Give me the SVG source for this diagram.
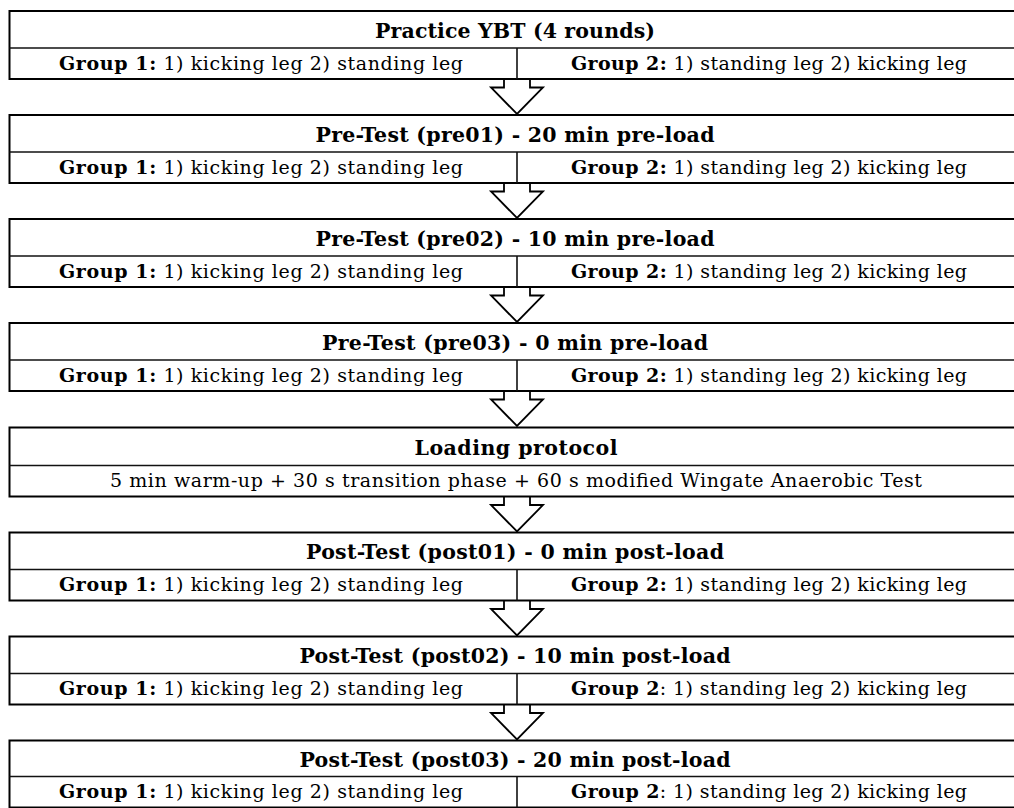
<svg xmlns="http://www.w3.org/2000/svg" width="1014" height="808" viewBox="0 0 1014 808">
<style>
.box{fill:#fff;stroke:#000;stroke-width:2}
.sep{stroke:#111;stroke-width:1.6;fill:none}
.hd{font-family:"DejaVu Serif","Liberation Serif",serif;font-weight:bold;font-size:20.5px;fill:#000;text-anchor:middle}
.sub{font-family:"DejaVu Serif","Liberation Serif",serif;font-size:19px;fill:#000;text-anchor:middle}
.b{font-weight:bold}
.arrow{fill:#fff;stroke:#000;stroke-width:1.8;stroke-linejoin:miter}
</style>
<rect width="1014" height="808" fill="#fff"/>

<g id="connectors">
<path class="arrow" d="M504,79 V87.5 H491 L517,114 L543,87.5 H530 V79"/>
<path class="arrow" d="M504,183 V191.5 H491 L517,218 L543,191.5 H530 V183"/>
<path class="arrow" d="M504,287 V295.5 H491 L517,322 L543,295.5 H530 V287"/>
<path class="arrow" d="M504,391 V399.5 H491 L517,426 L543,399.5 H530 V391"/>
<path class="arrow" d="M504,496.5 V505 H491 L517,531.5 L543,505 H530 V496.5"/>
<path class="arrow" d="M504,600.5 V609 H491 L517,635.5 L543,609 H530 V600.5"/>
<path class="arrow" d="M504,704.5 V713 H491 L517,739.5 L543,713 H530 V704.5"/>
</g>

<g id="practice">
<rect class="box" x="9.5" y="11" width="1012" height="68"/>
<line class="sep" x1="9.5" y1="48" x2="1021.5" y2="48"/>
<line class="sep" x1="517" y1="48" x2="517" y2="79"/>
<text class="hd" x="515" y="38" textLength="280">Practice YBT (4 rounds)</text>
<text class="sub" x="261" y="70" textLength="404"><tspan class="b">Group 1:</tspan> 1) kicking leg 2) standing leg</text>
<text class="sub" x="769" y="70" textLength="396"><tspan class="b">Group 2:</tspan> 1) standing leg 2) kicking leg</text>
</g>

<g id="pre01">
<rect class="box" x="9.5" y="115" width="1012" height="68"/>
<line class="sep" x1="9.5" y1="152" x2="1021.5" y2="152"/>
<line class="sep" x1="517" y1="152" x2="517" y2="183"/>
<text class="hd" x="515" y="142" textLength="399">Pre-Test (pre01) - 20 min pre-load</text>
<text class="sub" x="261" y="174" textLength="404"><tspan class="b">Group 1:</tspan> 1) kicking leg 2) standing leg</text>
<text class="sub" x="769" y="174" textLength="396"><tspan class="b">Group 2:</tspan> 1) standing leg 2) kicking leg</text>
</g>

<g id="pre02">
<rect class="box" x="9.5" y="219" width="1012" height="68"/>
<line class="sep" x1="9.5" y1="256" x2="1021.5" y2="256"/>
<line class="sep" x1="517" y1="256" x2="517" y2="287"/>
<text class="hd" x="515" y="246" textLength="399">Pre-Test (pre02) - 10 min pre-load</text>
<text class="sub" x="261" y="278" textLength="404"><tspan class="b">Group 1:</tspan> 1) kicking leg 2) standing leg</text>
<text class="sub" x="769" y="278" textLength="396"><tspan class="b">Group 2:</tspan> 1) standing leg 2) kicking leg</text>
</g>

<g id="pre03">
<rect class="box" x="9.5" y="323" width="1012" height="68"/>
<line class="sep" x1="9.5" y1="360" x2="1021.5" y2="360"/>
<line class="sep" x1="517" y1="360" x2="517" y2="391"/>
<text class="hd" x="515" y="350" textLength="386">Pre-Test (pre03) - 0 min pre-load</text>
<text class="sub" x="261" y="382" textLength="404"><tspan class="b">Group 1:</tspan> 1) kicking leg 2) standing leg</text>
<text class="sub" x="769" y="382" textLength="396"><tspan class="b">Group 2:</tspan> 1) standing leg 2) kicking leg</text>
</g>

<g id="loading">
<rect class="box" x="9.5" y="427.5" width="1012" height="69"/>
<line class="sep" x1="9.5" y1="465.5" x2="1021.5" y2="465.5"/>
<text class="hd" x="516" y="455" textLength="203">Loading protocol</text>
<text class="sub" x="516" y="487" textLength="812">5 min warm-up + 30 s transition phase + 60 s modified Wingate Anaerobic Test</text>
</g>

<g id="post01">
<rect class="box" x="9.5" y="532.5" width="1012" height="68"/>
<line class="sep" x1="9.5" y1="569.5" x2="1021.5" y2="569.5"/>
<line class="sep" x1="517" y1="569.5" x2="517" y2="600.5"/>
<text class="hd" x="515" y="559" textLength="418">Post-Test (post01) - 0 min post-load</text>
<text class="sub" x="261" y="591" textLength="404"><tspan class="b">Group 1:</tspan> 1) kicking leg 2) standing leg</text>
<text class="sub" x="769" y="591" textLength="396"><tspan class="b">Group 2:</tspan> 1) standing leg 2) kicking leg</text>
</g>

<g id="post02">
<rect class="box" x="9.5" y="636.5" width="1012" height="68"/>
<line class="sep" x1="9.5" y1="673.5" x2="1021.5" y2="673.5"/>
<line class="sep" x1="517" y1="673.5" x2="517" y2="704.5"/>
<text class="hd" x="515" y="663" textLength="431">Post-Test (post02) - 10 min post-load</text>
<text class="sub" x="261" y="695" textLength="404"><tspan class="b">Group 1:</tspan> 1) kicking leg 2) standing leg</text>
<text class="sub" x="769" y="695" textLength="396"><tspan class="b">Group 2</tspan>: 1) standing leg 2) kicking leg</text>
</g>

<g id="post03">
<rect class="box" x="9.5" y="740.5" width="1012" height="67"/>
<line class="sep" x1="9.5" y1="776.5" x2="1021.5" y2="776.5"/>
<line class="sep" x1="517" y1="776.5" x2="517" y2="807.5"/>
<text class="hd" x="515" y="767" textLength="431">Post-Test (post03) - 20 min post-load</text>
<text class="sub" x="261" y="798" textLength="404"><tspan class="b">Group 1:</tspan> 1) kicking leg 2) standing leg</text>
<text class="sub" x="769" y="798" textLength="396"><tspan class="b">Group 2</tspan>: 1) standing leg 2) kicking leg</text>
</g>
</svg>
